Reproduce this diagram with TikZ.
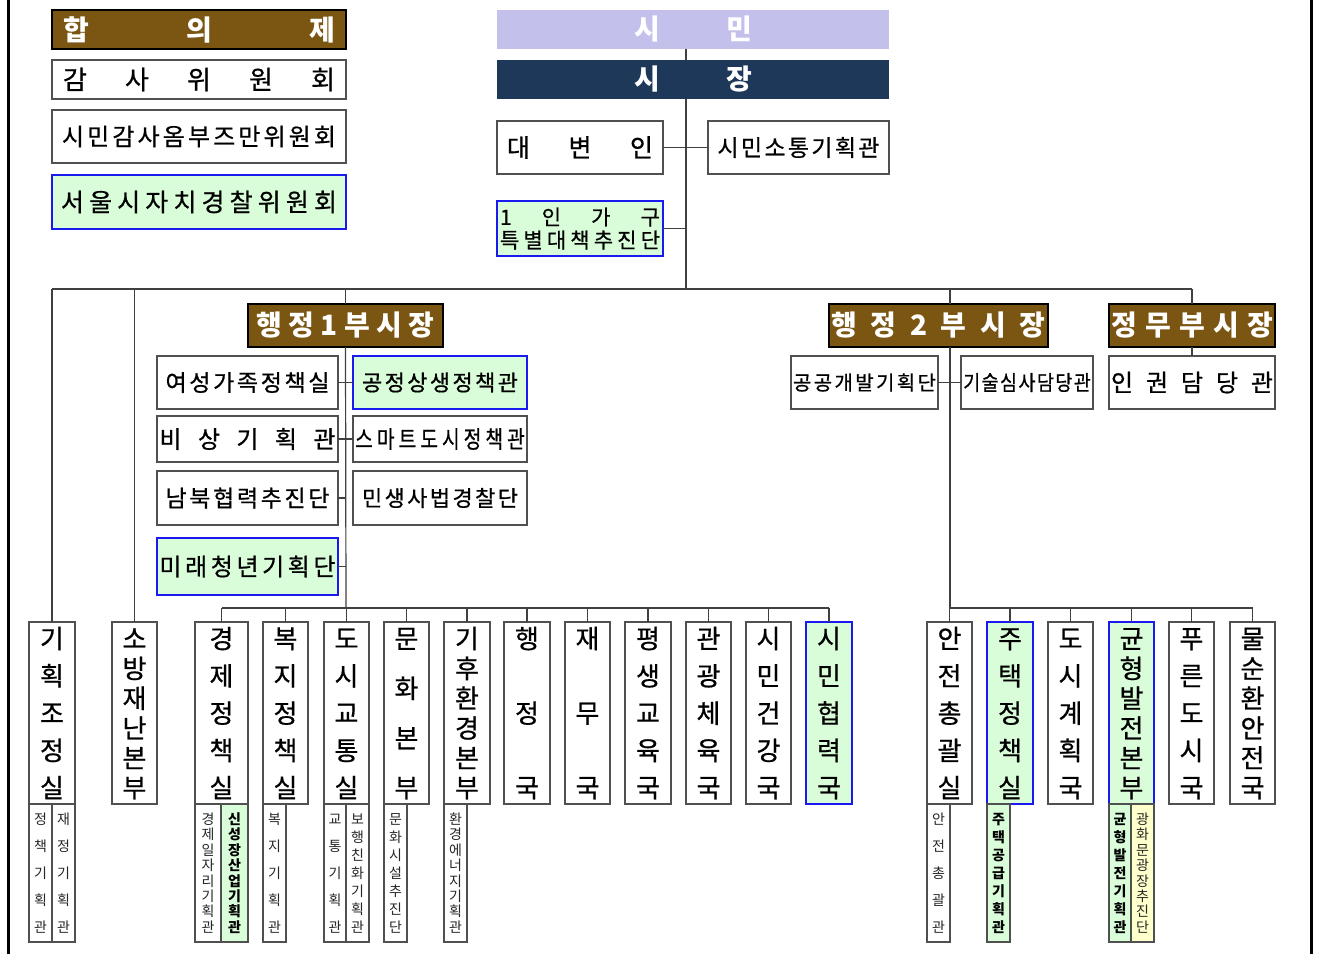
\documentclass[tikz,border=0pt]{standalone}
\usepackage{fontspec}
\usepackage{graphicx}
\setmainfont{Noto Sans CJK KR}
\newfontfamily\medf{Noto Sans CJK KR}[FakeBold=0.7]
\newcommand\fs[1]{\fontsize{#1}{#1}\selectfont}
\newcommand\mfs[1]{\medf\fontsize{#1}{#1}\selectfont}
\newcommand\rsstrut{\vrule height .88em depth .12em width 0pt}
\ExplSyntaxOn
\seq_new:N \l_rs_seq
\NewDocumentCommand\HS{ m m }{
  \seq_clear:N \l_rs_seq
  \tl_map_inline:nn {#2} { \seq_put_right:Nn \l_rs_seq {##1} }
  \hbox_to_wd:nn {#1} { \seq_use:Nn \l_rs_seq { \hfill } }
}
\NewDocumentCommand\VS{ m m }{
  \seq_clear:N \l_rs_seq
  \tl_map_inline:nn {#2} { \seq_put_right:Nn \l_rs_seq { \hbox_to_wd:nn {1em} { \hss \rsstrut ##1 \hss } } }
  \vbox_to_ht:nn {#1} { \offinterlineskip \seq_use:Nn \l_rs_seq { \vfill } }
}
\ExplSyntaxOff
\definecolor{brn}{HTML}{7B5612}
\definecolor{lav}{HTML}{C3C0EC}
\definecolor{navy}{HTML}{1D3858}
\definecolor{lg}{HTML}{D9FCD9}
\definecolor{blu}{HTML}{1A1AF0}
\definecolor{ly}{HTML}{FFFFCC}
\definecolor{gbd}{HTML}{505050}
\tikzset{
  box/.style={draw=gbd, line width=1.3pt, fill=white, inner sep=0pt, outer sep=0pt, text=black},
  grn/.style={fill=lg, draw=blu, line width=2pt},
  head/.style={fill=brn, draw=black, line width=2pt, text=white, font=\bfseries\fs{28}},
  top/.style={draw=none, text=white, font=\bfseries\fs{28}},
  col/.style={font=\mfs{26}},
  sub/.style={line width=1.1pt, font=\fs{14}, text=black!85},
  subg/.style={sub, fill=lg, font=\bfseries\fs{14}, text=black},
  conn/.style={draw=black!75, line width=1.2pt},
  frame/.style={draw=black, line width=3pt}
}
\newcommand\bx[7][]{\node[box,#1,anchor=north west,minimum width={(#5-#3)*1pt},minimum height={(#6-#4)*1pt}] (#2) at (#3,#4) {#7};}
\begin{document}
\begin{tikzpicture}[x=1pt,y=-1pt]
\useasboundingbox (0,0) rectangle (1322,954);
\fill[white] (0,0) rectangle (1322,954);
\draw[frame] (8,0) -- (8,954);
\draw[frame] (1311,0) -- (1311,954);
% top left
\bx[head]{hap}{52}{10}{346}{49}{\HS{272pt}{합의제}}
\bx[font=\mfs{26}]{gamsa}{52}{60}{346}{99}{\HS{272pt}{감사위원회}}
\bx[font=\mfs{24}]{ombu}{52}{110}{346}{163}{\HS{274pt}{시민감사옴부즈만위원회}}
\bx[grn,font=\mfs{25}]{jachi}{52}{175}{346}{229}{\HS{276pt}{서울시자치경찰위원회}}
% top center
\bx[top,fill=lav]{simin}{497}{10}{889}{49}{\HS{118pt}{시민}}
\bx[top,fill=navy]{sijang}{497}{60}{889}{99}{\HS{118pt}{시장}}
\bx[font=\mfs{25}]{daebyeon}{497}{121}{663}{174}{\HS{146pt}{대변인}}
\bx[font=\mfs{23}]{sotong}{708}{121}{889}{174}{\HS{162pt}{시민소통기획관}}
\bx[grn,font=\medf\fontsize{21}{23}\selectfont,align=center]{ingagu}{497}{201}{663}{256}{\HS{160pt}{1인가구}\\\HS{160pt}{특별대책추진단}}
% 행정1부시장
\bx[head]{hone}{248}{304}{443}{347}{\HS{178pt}{행정1부시장}}
\bx[font=\mfs{23}]{yeoseong}{157}{356}{338}{409}{\HS{164pt}{여성가족정책실}}
\bx[grn,font=\mfs{22}]{gongjeong}{353}{356}{527}{409}{\HS{156pt}{공정상생정책관}}
\bx[font=\mfs{24}]{bisang}{157}{416}{338}{462}{\HS{176pt}{비상기획관}}
\bx[font=\mfs{24}]{smart}{353}{416}{527}{462}{\scalebox{0.8}[1]{\HS{212pt}{스마트도시정책관}}}
\bx[font=\mfs{23}]{nambuk}{157}{471}{338}{525}{\HS{164pt}{남북협력추진단}}
\bx[font=\mfs{22}]{minsaeng}{353}{471}{527}{525}{\HS{156pt}{민생사법경찰단}}
\bx[grn,font=\mfs{24}]{mirae}{157}{538}{338}{595}{\HS{176pt}{미래청년기획단}}
% 행정2부시장, 정무부시장
\bx[head]{htwo}{829}{304}{1048}{347}{\HS{214pt}{행정2부시장}}
\bx[head]{jm}{1109}{304}{1275}{347}{\HS{162pt}{정무부시장}}
\bx[font=\mfs{20}]{gonggong}{791}{356}{938}{409}{\HS{143pt}{공공개발기획단}}
\bx[font=\mfs{21}]{gisul}{961}{356}{1093}{409}{\scalebox{0.88}[1]{\HS{145pt}{기술심사담당관}}}
\bx[font=\mfs{24}]{ingwon}{1109}{356}{1275}{409}{\HS{162pt}{인권담당관}}
% bottom row
\bx[col]{gjo}{29}{622}{75}{804}{\VS{172pt}{기획조정실}}
\bx[col]{sobang}{112}{622}{157}{804}{\VS{172pt}{소방재난본부}}
\bx[col]{gyeongje}{195}{622}{248}{804}{\VS{172pt}{경제정책실}}
\bx[col]{bokji}{263}{622}{308}{804}{\VS{172pt}{복지정책실}}
\bx[col]{dosi}{324}{622}{369}{804}{\VS{172pt}{도시교통실}}
\bx[col]{munhwa}{384}{622}{429}{804}{\VS{172pt}{문화본부}}
\bx[col]{gihu}{444}{622}{490}{804}{\VS{172pt}{기후환경본부}}
\bx[col]{haengjeong}{504}{622}{550}{804}{\VS{172pt}{행정국}}
\bx[col]{jaemu}{565}{622}{610}{804}{\VS{172pt}{재무국}}
\bx[col]{pyeong}{625}{622}{671}{804}{\VS{172pt}{평생교육국}}
\bx[col]{gwan}{686}{622}{731}{804}{\VS{172pt}{관광체육국}}
\bx[col]{geongang}{746}{622}{791}{804}{\VS{172pt}{시민건강국}}
\bx[col,grn]{hyeop}{806}{622}{852}{804}{\VS{172pt}{시민협력국}}
\bx[col]{anjeon}{927}{622}{972}{804}{\VS{172pt}{안전총괄실}}
\bx[col,grn]{jutaek}{987}{622}{1033}{804}{\VS{172pt}{주택정책실}}
\bx[col]{dogye}{1048}{622}{1093}{804}{\VS{172pt}{도시계획국}}
\bx[col,grn]{gyunhyeong}{1109}{622}{1154}{804}{\VS{172pt}{균형발전본부}}
\bx[col]{pureun}{1169}{622}{1214}{804}{\VS{172pt}{푸른도시국}}
\bx[col]{mul}{1230}{622}{1275}{804}{\VS{172pt}{물순환안전국}}
% sub boxes
\bx[sub]{sa}{29}{804}{52}{942}{\VS{120pt}{정책기획관}}
\bx[sub]{sb}{52}{804}{75}{942}{\VS{120pt}{재정기획관}}
\bx[sub]{sc}{195}{804}{221}{942}{\VS{120pt}{경제일자리기획관}}
\bx[subg]{sd}{221}{804}{248}{942}{\VS{120pt}{신성장산업기획관}}
\bx[sub]{se}{263}{804}{286}{942}{\VS{120pt}{복지기획관}}
\bx[sub]{sf}{324}{804}{346}{942}{\VS{120pt}{교통기획관}}
\bx[sub]{sg}{346}{804}{369}{942}{\VS{120pt}{보행친화기획관}}
\bx[sub]{sh}{384}{804}{407}{942}{\VS{120pt}{문화시설추진단}}
\bx[sub]{si}{444}{804}{467}{942}{\VS{120pt}{환경에너지기획관}}
\bx[sub]{sj}{927}{804}{950}{942}{\VS{120pt}{안전총괄관}}
\bx[subg]{sk}{987}{804}{1010}{942}{\VS{120pt}{주택공급기획관}}
\bx[subg]{sl}{1109}{804}{1131}{942}{\VS{120pt}{균형발전기획관}}
\bx[sub,fill=ly]{sm}{1131}{804}{1154}{942}{\VS{120pt}{광화문광장추진단}}
% junction coordinates
\coordinate (j0) at (686,289);
\coordinate (x2) at (950,289);
\coordinate (gl1) at (346,608);
\coordinate (gl2) at (950,608);
% connectors
\draw[conn] (simin.south -| j0) -- (sijang.north -| j0);
\draw[conn] (sijang.south -| j0) -- (j0);
\draw[conn] (daebyeon.east) -- (sotong.west);
\draw[conn] (ingagu.east) -- (ingagu.east -| j0);
\draw[conn] (gjo.north |- j0) -- (jm.north |- j0);
\foreach \n in {gjo,sobang,hone,jm} \draw[conn] (\n.north |- j0) -- (\n.north);
\draw[conn] (x2) -- (x2 |- htwo.north);
\draw[conn] (x2 |- htwo.south) -- (gl2);
\draw[conn] (gonggong.east) -- (gisul.west);
\draw[conn] (jm.south) -- (ingwon.north);
\draw[conn] (hone.south) -- (gl1);
\draw[conn] (yeoseong.east) -- (gongjeong.west);
\draw[conn] (bisang.east) -- (smart.west);
\draw[conn] (nambuk.east) -- (nambuk.east -| gl1);
\draw[conn] (mirae.east) -- (mirae.east -| gl1);
\draw[conn] (gyeongje.north |- gl1) -- (hyeop.north |- gl1);
\foreach \n in {gyeongje,bokji,dosi,munhwa,gihu,haengjeong,jaemu,pyeong,gwan,geongang,hyeop} \draw[conn] (\n.north |- gl1) -- (\n.north);
\draw[conn] (anjeon.north |- gl2) -- (mul.north |- gl2);
\foreach \n in {anjeon,jutaek,dogye,gyunhyeong,pureun,mul} \draw[conn] (\n.north |- gl2) -- (\n.north);
\end{tikzpicture}
\end{document}
